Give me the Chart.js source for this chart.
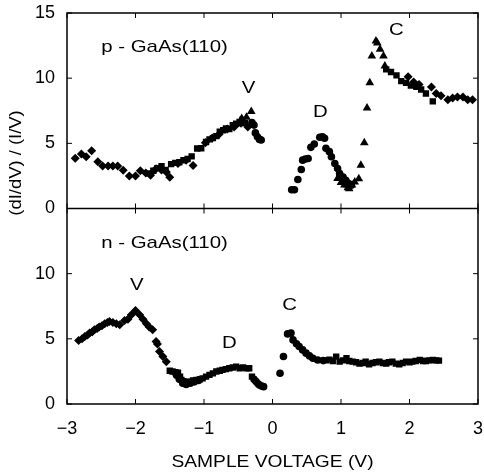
<!DOCTYPE html>
<html>
<head>
<meta charset="utf-8">
<script src="https://cdn.jsdelivr.net/npm/chart.js@4"></script>
<style>
  html, body { margin: 0; padding: 0; background: #fff; }
  #wrap { width: 484px; height: 474px; }
</style>
</head>
<body>
<div id="wrap"><canvas id="myChart" width="484" height="474"></canvas></div>
<script>
// x tick values (sample voltage)
const xTicks = [-3, -2, -1, 0, 1, 2, 3];
const yTicks = [0, 5, 10, 15];

// p-GaAs(110) panel
const topDiamondX = [-2.88,-2.79,-2.72,-2.64,-2.55,-2.48,-2.40,-2.33,-2.26,-2.18,-2.09,-2.00,-1.93,-1.85,-1.78,-1.70,-1.62,-1.55,-1.50,-1.38,-1.26,-1.16,-0.98,-0.88,-0.78,-0.66,-0.56,-0.46,-0.36, 1.98,2.06,2.14,2.32,2.39,2.46,2.56,2.63,2.70,2.78,2.85,2.92];
const topDiamondY = [3.86,4.18,3.97,4.43,3.58,3.27,3.27,3.27,3.27,2.94,2.50,2.50,2.89,2.73,2.55,3.05,2.95,2.80,2.40,3.45,3.70,3.30,5.05,5.40,5.70,6.10,6.25,6.55,6.25, 10.10,9.70,9.52,9.33,8.82,8.66,8.35,8.48,8.56,8.56,8.35,8.35];
const topSquareX = [-1.80,-1.74,-1.68,-1.62,-1.56,-1.48,-1.42,-1.36,-1.30,-1.24,-1.18,-1.10,-1.04,-0.97,-0.92,-0.87,-0.82,-0.77,-0.72,-0.68,-0.63,-0.58,-0.53,-0.48,-0.44,-0.40, 0.98,1.03,1.08, 1.66,1.73,1.81,1.88,1.95,2.02,2.10,2.17,2.24,2.34];
const topSquareY = [2.70,2.90,3.10,3.25,2.95,3.40,3.50,3.55,3.70,3.80,4.00,4.60,4.62,5.10,5.30,5.40,5.55,5.90,6.00,6.15,6.10,6.40,6.50,6.65,6.80,6.55, 2.50,2.10,1.85, 10.67,10.47,10.21,9.77,9.64,9.44,9.33,9.13,8.82,8.22];
const topTriangleX = [-0.45,-0.38,-0.31, 0.95,1.00,1.05,1.10,1.12,1.16,1.20,1.26,1.29,1.34,1.38,1.42,1.45,1.51,1.53,1.57,1.62,1.64];
const topTriangleY = [6.90,7.00,7.45, 2.30,2.00,1.80,1.60,1.52,1.80,2.04,2.29,3.32,5.05,7.71,9.64,11.70,12.86,12.70,12.22,11.70,10.93];
const topCircleX = [-0.30,-0.27,-0.25,-0.22,-0.19,-0.165, 0.28,0.32,0.37,0.42,0.44,0.48,0.52,0.56,0.61,0.69,0.73,0.76,0.78,0.83,0.86,0.91,0.95,0.98,1.03,1.07,1.10,1.15];
const topCircleY = [6.60,6.40,5.80,5.50,5.30,5.26, 1.44,1.44,2.22,2.99,3.71,3.80,3.84,4.69,4.95,5.47,5.50,5.39,4.62,4.36,3.97,3.45,3.07,2.68,2.42,2.17,1.96,1.78];

// n-GaAs(110) panel
const botDiamondX = [-2.83,-2.78,-2.74,-2.70,-2.67,-2.63,-2.60,-2.56,-2.53,-2.49,-2.45,-2.41,-2.38,-2.33,-2.28,-2.23,-2.16,-2.11,-2.06,-2.00,-1.94,-1.89,-1.84,-1.80,-1.75,-1.70,-1.68,-1.65,-1.60,-1.55];
const botDiamondY = [4.87,5.00,5.18,5.30,5.44,5.55,5.69,5.80,5.90,6.00,6.15,6.25,6.33,6.25,6.15,6.08,6.41,6.51,6.85,7.18,6.85,6.51,6.15,5.90,5.69,4.79,4.60,4.02,3.64,3.25];
const botSquareX = [-1.50,-1.46,-1.42,-1.38,-1.35,-1.33,-1.30,-1.28,-1.25,-1.21,-1.16,-1.11,-1.06,-1.02,-0.97,-0.92,-0.87,-0.82,-0.77,-0.73,-0.68,-0.63,-0.58,-0.53,-0.48,-0.43,-0.38,-0.34,-0.30, 0.78,0.83,0.88,0.93,0.98,1.03,1.08,1.12,1.17,1.22,1.27,1.32,1.36,1.41,1.46,1.51,1.56,1.61,1.66,1.70,1.75,1.80,1.85,1.90,1.95,2.00,2.04,2.09,2.15,2.20,2.24,2.29,2.34,2.39,2.43];
const botSquareY = [2.55,2.49,2.45,2.40,2.10,1.85,1.75,1.59,1.70,1.72,1.80,1.85,1.90,1.97,2.10,2.23,2.35,2.49,2.55,2.62,2.68,2.74,2.80,2.87,2.74,2.80,2.74,2.74,2.10, 3.35,3.40,3.30,3.64,3.25,3.35,3.51,3.30,3.25,3.20,3.10,3.15,3.25,3.05,3.15,3.20,3.25,3.15,3.10,3.20,3.25,3.10,3.05,3.15,3.25,3.20,3.25,3.30,3.38,3.30,3.30,3.35,3.38,3.35,3.33];
const botCircleX = [-1.40,-1.36,-1.31,-1.26,-1.20,-1.14,-1.08, -0.27,-0.24,-0.21,-0.19,-0.16,-0.13, 0.11,0.16,0.22,0.27,0.30,0.35,0.39,0.44,0.49,0.54,0.59,0.66,0.74];
const botCircleY = [2.20,1.90,1.60,1.50,1.60,1.70,1.80, 1.90,1.72,1.55,1.46,1.38,1.33, 2.36,3.64,5.38,5.44,4.92,4.62,4.41,4.15,3.90,3.69,3.51,3.38,3.33];

const FONT = '"Liberation Sans", Arial, Helvetica, sans-serif';

function pts(xs, ys) {
    return xs.map((x, i) => ({ x: x, y: ys[i] }));
}

function series(label, xs, ys, axis, style, r) {
    return {
        label: label,
        data: pts(xs, ys),
        yAxisID: axis,
        pointStyle: style,
        pointRadius: r,
        pointHoverRadius: r,
        backgroundColor: '#000',
        borderColor: '#000',
        borderWidth: 0,
        showLine: false
    };
}

// frame, inward ticks and the text labels inside the panels
const framePlugin = {
    id: 'frame',
    afterDraw(chart) {
        const ctx = chart.ctx;
        const a = chart.chartArea;
        const xs = chart.scales.x, yt = chart.scales.yTop, yb = chart.scales.yBot;
        const mid = yt.bottom;
        ctx.save();
        ctx.strokeStyle = '#000';
        ctx.lineWidth = 1.5;
        ctx.strokeRect(a.left, a.top, a.right - a.left, a.bottom - a.top);
        ctx.beginPath();
        ctx.moveTo(a.left, mid);
        ctx.lineTo(a.right, mid);
        ctx.stroke();

        ctx.lineWidth = 1;
        const t = 5;
        ctx.beginPath();
        xTicks.forEach(v => {
            const px = xs.getPixelForValue(v);
            ctx.moveTo(px, a.top); ctx.lineTo(px, a.top + t);
            ctx.moveTo(px, mid - t); ctx.lineTo(px, mid + t);
            ctx.moveTo(px, a.bottom); ctx.lineTo(px, a.bottom - t);
        });
        [yt, yb].forEach(s => {
            yTicks.forEach(v => {
                const py = s.getPixelForValue(v);
                ctx.moveTo(a.left, py); ctx.lineTo(a.left + t, py);
                ctx.moveTo(a.right, py); ctx.lineTo(a.right - t, py);
            });
        });
        ctx.stroke();

        // panel text
        ctx.fillStyle = '#000';
        ctx.textBaseline = 'middle';
        const put = (txt, x, y, s, align) => {
            ctx.save();
            ctx.font = '17px ' + FONT;
            ctx.textAlign = align || 'center';
            ctx.translate(xs.getPixelForValue(x), s.getPixelForValue(y));
            ctx.scale(1.2, 1);
            ctx.fillText(txt, 0, 0);
            ctx.restore();
        };
        put('p - GaAs(110)', -2.50, 12.37, yt, 'left');
        put('V', -0.35, 9.2, yt);
        put('D', 0.70, 7.37, yt);
        put('C', 1.81, 13.7, yt);
        put('n - GaAs(110)', -2.50, 12.36, yb, 'left');
        put('V', -1.98, 9.08, yb);
        put('D', -0.63, 4.62, yb);
        put('C', 0.25, 7.54, yb);

        // x title
        ctx.save();
        ctx.font = '17px ' + FONT;
        ctx.textAlign = 'center';
        ctx.translate((a.left + a.right) / 2, 462);
        ctx.scale(1.13, 1);
        ctx.fillText('SAMPLE VOLTAGE (V)', 0, 0);
        ctx.restore();

        // y title spanning both panels
        ctx.save();
        ctx.font = '16px ' + FONT;
        ctx.textAlign = 'center';
        ctx.translate(17, 163);
        ctx.rotate(-Math.PI / 2);
        ctx.scale(1.15, 1);
        ctx.fillText('(dI/dV) / (I/V)', 0, 0);
        ctx.restore();
        ctx.restore();
    }
};

document.addEventListener('DOMContentLoaded', () => {
    const ctx = document.getElementById('myChart').getContext('2d');

    const data = {
        datasets: [
            series('p diamonds', topDiamondX, topDiamondY, 'yTop', 'rectRot', 4.5),
            series('p squares', topSquareX, topSquareY, 'yTop', 'rect', 4.5),
            series('p triangles', topTriangleX, topTriangleY, 'yTop', 'triangle', 5),
            series('p circles', topCircleX, topCircleY, 'yTop', 'circle', 3.8),
            series('n diamonds', botDiamondX, botDiamondY, 'yBot', 'rectRot', 4.5),
            series('n squares', botSquareX, botSquareY, 'yBot', 'rect', 4.5),
            series('n circles', botCircleX, botCircleY, 'yBot', 'circle', 3.8)
        ]
    };

    const tickFont = { family: FONT, size: 18 };

    const noPad = s => {
        s.paddingLeft = 0; s.paddingRight = 0;
        s.paddingTop = 0; s.paddingBottom = 0;
    };

    const options = {
        responsive: false,
        animation: false,
        layout: { padding: { top: 13, right: 6, left: 0, bottom: 0 } },
        plugins: {
            legend: { display: false },
            tooltip: { enabled: false }
        },
        scales: {
            x: {
                type: 'linear',
                min: -3,
                max: 3,
                grid: { display: false, drawTicks: false },
                border: { display: false },
                afterBuildTicks: s => { s.ticks = xTicks.map(v => ({ value: v })); },
                ticks: {
                    color: '#000',
                    font: tickFont,
                    padding: 14,
                    callback: v => String(v).replace('-', '\u2212')
                },
                afterFit: s => { s.height = 70; noPad(s); }
            },
            yBot: {
                type: 'linear',
                position: 'left',
                stack: 'panels',
                stackWeight: 1,
                min: 0,
                max: 15,
                grid: { display: false, drawTicks: false },
                border: { display: false },
                afterBuildTicks: s => { s.ticks = yTicks.map(v => ({ value: v })); },
                ticks: {
                    color: '#000',
                    font: tickFont,
                    padding: 12,
                    autoSkip: false,
                    callback: v => (v === 15 ? '' : String(v))
                },
                afterFit: s => { s.width = 67; noPad(s); }
            },
            yTop: {
                type: 'linear',
                position: 'left',
                stack: 'panels',
                stackWeight: 1,
                min: 0,
                max: 15,
                grid: { display: false, drawTicks: false },
                border: { display: false },
                afterBuildTicks: s => { s.ticks = yTicks.map(v => ({ value: v })); },
                ticks: {
                    color: '#000',
                    font: tickFont,
                    padding: 12,
                    autoSkip: false
                },
                afterFit: s => { s.width = 67; noPad(s); }
            }
        }
    };

    new Chart(ctx, {
        type: 'scatter',
        data: data,
        options: options,
        plugins: [framePlugin]
    });
});
</script>
</body>
</html>
